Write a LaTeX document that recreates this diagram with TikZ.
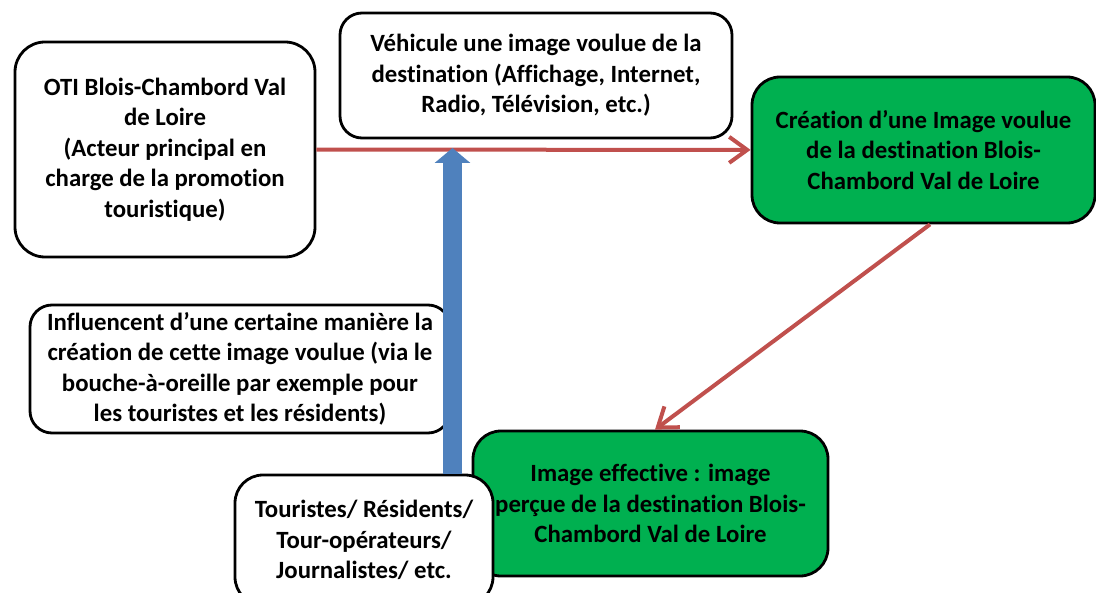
\documentclass[tikz,border=0pt]{standalone}
\usepackage{fontspec}
\setmainfont{Carlito}[Ligatures={NoCommon}]
\usetikzlibrary{arrows.meta}
\definecolor{flowred}{HTML}{C0504D}
\definecolor{flowblue}{HTML}{4F81BD}
\definecolor{goalgreen}{HTML}{00B050}

\begin{document}
\begin{tikzpicture}[x=0.5pt, y=-0.5pt,
        box/.style={rectangle, draw, line width=1.4pt, fill=white, rounded corners=11pt, align=center, inner sep=0pt, font=\bfseries\fontsize{12.4}{15.25}\selectfont},
        goal/.style={box, fill=goalgreen},
        flow/.style={draw=flowred, line width=2pt, -{Straight Barb[length=9pt,width=13pt]}},
        push/.style={draw=flowblue, line width=9.5pt, -{Triangle[length=7.5pt,width=17.5pt]}}
        ]
        \useasboundingbox (0,0) rectangle (1096,593);
        % Nodes
        \node [box, rounded corners=15pt, minimum width=150pt, minimum height=107.5pt] (oti) at (165,149.5)
            {OTI Blois-Chambord Val\\ de Loire\\ (Acteur principal en\\ charge de la promotion\\ touristique)};
        \node [box, minimum width=196pt, minimum height=62.5pt] (media) at (536,75.5)
            {Véhicule une image voulue de la\\ destination (Affichage, Internet,\\ Radio, Télévision, etc.)};
        \node [goal, rounded corners=14pt, minimum width=171.5pt, minimum height=73pt] (creation) at (923.5,150)
            {Création d’une Image voulue\\ de la destination Blois-\\ Chambord Val de Loire};
        \node [box, minimum width=210pt, minimum height=64pt] (influence) at (240,369)
            {Influencent d’une certaine manière la\\ création de cette image voulue (via le\\ bouche-à-oreille par exemple pour\\ les touristes et les résidents)};
        \node [goal, rounded corners=14pt, minimum width=177.5pt, minimum height=72.5pt] (effective) at (650.5,503.5)
            {Image effective : image\\ perçue de la destination Blois-\\ Chambord Val de Loire};
        \node [box, rounded corners=14pt, minimum width=129pt, minimum height=65pt] (tour) at (364,540)
            {Touristes/ Résidents/\\ Tour-opérateurs/\\ Journalistes/ etc.};
        \coordinate (join) at (452.5,148);

        % Edges
        \draw [flow] (oti) -- (creation);
        \draw [flow] ([xshift=3.25pt]creation.south) -- ([xshift=2.25pt]effective.north);
        \draw [push] (tour.north -| join) -- (join);

    \end{tikzpicture}
\end{document}
